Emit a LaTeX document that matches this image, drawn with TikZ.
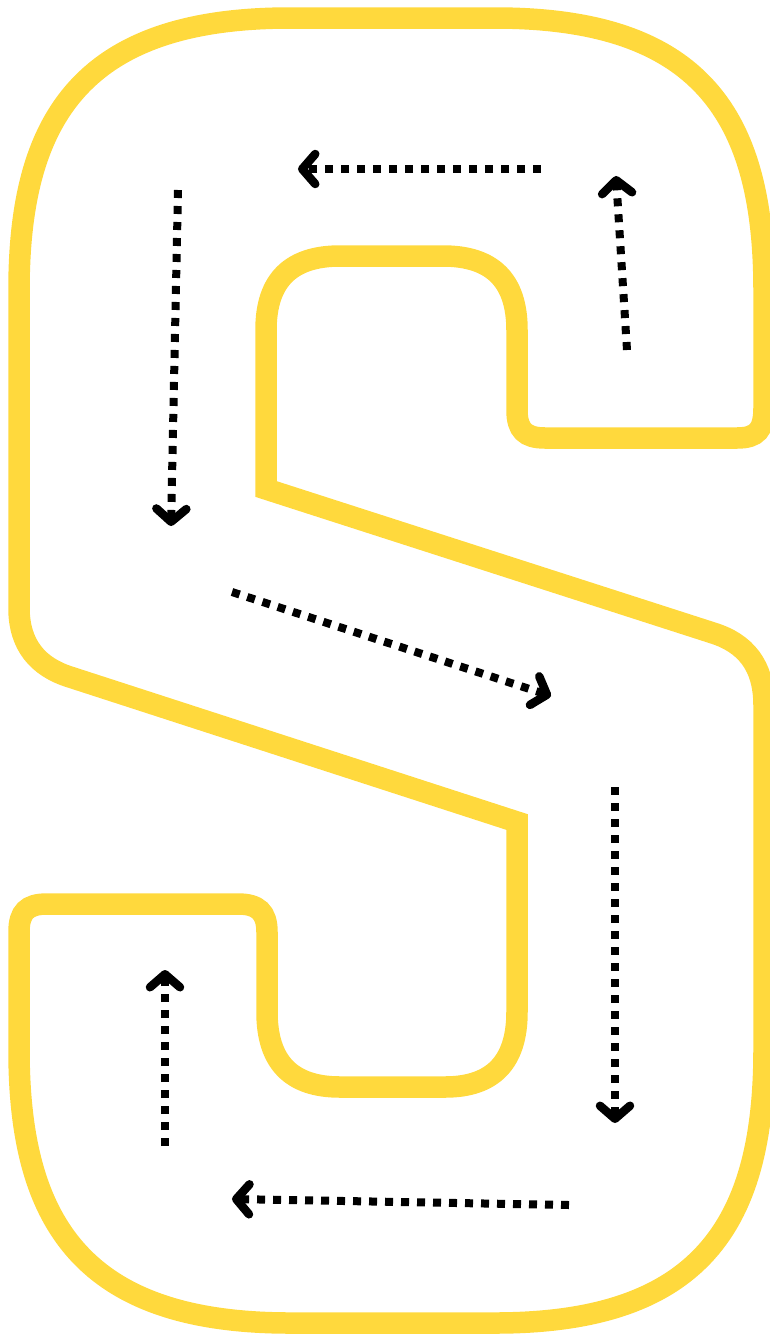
\documentclass[tikz,border=0pt]{standalone}
\usetikzlibrary{arrows.meta}
\definecolor{trackyellow}{RGB}{255,217,61}
\begin{document}
\begin{tikzpicture}[x=1pt,y=-1pt,
  track/.style={draw=trackyellow,line width=21.5pt,line join=miter},
  flow/.style={draw=black,line width=8pt,dash pattern=on 8pt off 8pt,
    -{Straight Barb[length=13pt,width=30pt,line width=8.5pt,round]}}]
\useasboundingbox (0,0) rectangle (770,1334);
% S-shaped track
\draw[track] (290,18) -- (495,18)
  .. controls (700,18) and (764,115) .. (764,290) -- (764,408)
  .. controls (764,430) and (757,438) .. (737,438) -- (545,438)
  .. controls (525,438) and (517,430) .. (517,410) -- (517,330)
  .. controls (517,280) and (492,256) .. (443,256) -- (340,256)
  .. controls (291,256) and (266,280) .. (266,330) -- (266,489)
  -- (713,633) .. controls (745,643) and (764,665) .. (764,705)
  -- (764,1050) .. controls (764,1225) and (700,1323) .. (495,1323)
  -- (290,1323) .. controls (85,1323) and (19,1225) .. (19,1050)
  -- (19,932) .. controls (19,912) and (27,904) .. (47,904)
  -- (238,904) .. controls (258,904) and (267,912) .. (267,932)
  -- (267,1012) .. controls (267,1062) and (291,1087) .. (340,1087)
  -- (445,1087) .. controls (493,1087) and (517,1062) .. (517,1012)
  -- (517,822) -- (70,677)
  .. controls (38,667) and (19,645) .. (19,608) -- (19,290)
  .. controls (19,115) and (85,18) .. (290,18) -- cycle;
% arrow end points
\coordinate (a1s) at (541,169); \coordinate (a1e) at (298,169);
\coordinate (a2s) at (627,350); \coordinate (a2e) at (616,176);
\coordinate (a3s) at (178,190); \coordinate (a3e) at (171,526);
\coordinate (a4s) at (232,592); \coordinate (a4e) at (551,696);
\coordinate (a5s) at (615,787); \coordinate (a5e) at (615,1123);
\coordinate (a6s) at (569,1205); \coordinate (a6e) at (232,1199);
\coordinate (a7s) at (165,1146); \coordinate (a7e) at (165,970);
\draw[flow] (a1s) -- (a1e);
\draw[flow] (a2s) -- (a2e);
\draw[flow] (a3s) -- (a3e);
\draw[flow] (a4s) -- (a4e);
\draw[flow] (a5s) -- (a5e);
\draw[flow] (a6s) -- (a6e);
\draw[flow] (a7s) -- (a7e);
\end{tikzpicture}
\end{document}
